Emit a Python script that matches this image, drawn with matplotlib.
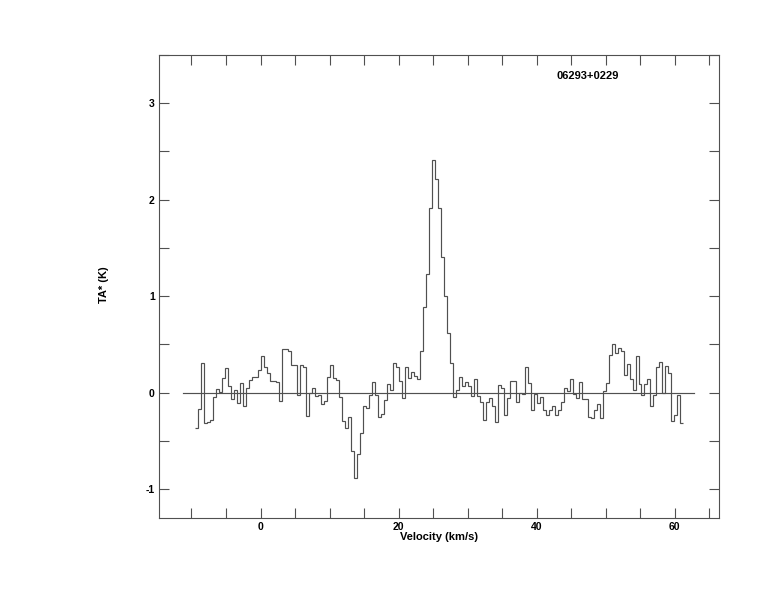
import numpy as np
import matplotlib
matplotlib.use('Agg')
import matplotlib.pyplot as plt
from matplotlib.ticker import MultipleLocator

SOURCE = '06293+0229'

# velocity grid of the spectrum (km/s)
V_FIRST_EDGE = -9.49
CHANNEL_WIDTH = 0.434

# antenna temperature per channel (K)
TA = [
    -0.37, -0.17, 0.31, -0.31, -0.30, -0.28, -0.045, 0.04, 0.01, 0.15,
    0.26, 0.07, -0.065, 0.03, -0.11, 0.10, -0.135, 0.05, 0.13, 0.16,
    0.16, 0.23, 0.38, 0.27, 0.20, 0.12, 0.12, 0.11, -0.09, 0.45,
    0.45, 0.43, 0.29, 0.29, -0.02, 0.29, 0.27, -0.24, 0.0, 0.05,
    -0.04, -0.02, -0.12, -0.09, 0.16, 0.29, 0.15, 0.13, -0.045, -0.29,
    -0.37, -0.25, -0.61, -0.89, -0.64, -0.42, -0.135, -0.16, -0.03, 0.11,
    -0.03, -0.25, -0.22, -0.08, 0.09, 0.03, 0.31, 0.27, 0.12, -0.055,
    0.27, 0.15, 0.21, 0.17, 0.14, 0.43, 0.89, 1.23, 1.91, 2.41,
    2.21, 1.91, 1.41, 1.00, 0.62, 0.31, -0.045, 0.03, 0.16, 0.07,
    0.11, 0.07, -0.04, 0.14, -0.04, -0.10, -0.28, -0.10, -0.06, -0.14,
    -0.30, 0.08, 0.05, -0.23, -0.06, 0.12, 0.12, -0.10, 0.0, -0.01,
    0.27, 0.10, -0.18, -0.01, -0.11, -0.045, -0.18, -0.23, -0.18, -0.14,
    -0.23, -0.18, -0.10, 0.05, 0.02, 0.14, -0.01, -0.06, 0.11, -0.07,
    -0.07, -0.25, -0.26, -0.18, -0.12, -0.26, 0.02, 0.10, 0.39, 0.50,
    0.41, 0.46, 0.43, 0.18, 0.30, 0.14, 0.03, 0.38, 0.09, -0.03,
    0.09, 0.14, -0.14, -0.02, 0.27, 0.32, 0.0, 0.28, 0.20, -0.29,
    -0.23, -0.03, -0.31,
]

BASELINE_V = [-11.2, 62.8]

XLIM = (-14.7, 66.4)
YLIM = (-1.3, 3.5)

line_col = '#505050'

plt.rcParams['font.family'] = ['Liberation Sans', 'DejaVu Sans']
plt.rcParams['font.weight'] = 'bold'
plt.rcParams['axes.unicode_minus'] = False

edges = V_FIRST_EDGE + CHANNEL_WIDTH * np.arange(len(TA) + 1)

fig = plt.figure(figsize=(7.74, 6.12), dpi=100)
ax = fig.add_axes([159 / 774, 1 - 518 / 612, 560 / 774, 463 / 612])

ax.stairs(TA, edges, baseline=None, color=line_col, lw=0.85)
ax.plot(BASELINE_V, [0, 0], color=line_col, lw=0.85)

ax.set_xlim(*XLIM)
ax.set_ylim(*YLIM)

ax.xaxis.set_major_locator(MultipleLocator(20))
ax.xaxis.set_minor_locator(MultipleLocator(5))
ax.yaxis.set_major_locator(MultipleLocator(1))
ax.yaxis.set_minor_locator(MultipleLocator(0.5))

for which in ('major', 'minor'):
    ax.tick_params(axis='both', which=which, direction='in', length=7.2,
                   width=0.8, color=line_col, top=True, right=True)
ax.tick_params(axis='both', which='major', labelsize=7.5, pad=3)

for s in ax.spines.values():
    s.set_color(line_col)
    s.set_linewidth(0.8)

ax.set_xlabel('Velocity (km/s)', fontsize=8, fontweight='bold', labelpad=0)
ax.text(-0.098, 0.503, 'TA* (K)', transform=ax.transAxes, rotation=90,
        ha='center', va='center', fontsize=8, fontweight='bold')
ax.text(0.766, 0.9546, SOURCE, transform=ax.transAxes, ha='center',
        va='center', fontsize=8, fontweight='bold')

fig.savefig('out.png', dpi=100)
